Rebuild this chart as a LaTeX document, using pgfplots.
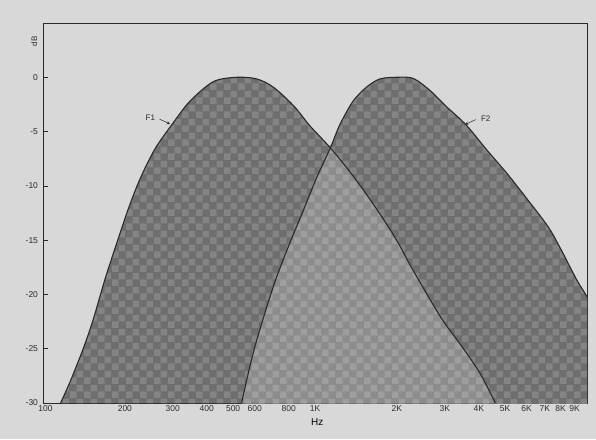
\documentclass[border=0pt]{standalone}
\usepackage{fontspec}
\setmainfont{Liberation Sans}
\usepackage{pgfplots}
\pgfplotsset{compat=1.18}
\usetikzlibrary{patterns.meta}
\definecolor{paper}{HTML}{D8D8D8}
\definecolor{band}{HTML}{6E6E6E}
\definecolor{overlap}{HTML}{8C8C8C}
\definecolor{ink}{HTML}{2A2A2A}

\tikzdeclarepattern{
  name=checks, type=uncolored,
  bounding box={(0pt,0pt) and (14pt,14pt)},
  tile size={(14pt,14pt)},
  code={\fill (0pt,0pt) rectangle (7pt,7pt); \fill (7pt,7pt) rectangle (14pt,14pt);}
}

\begin{document}
\begin{tikzpicture}
\fill[paper] (-43pt,-36pt) rectangle (553pt,403pt);
\begin{axis}[
  scale only axis, width=544pt, height=380pt,
  xmode=log, xmin=100, xmax=10000, ymin=-30, ymax=5,
  clip mode=individual,
  axis line style={ink, line width=0.8pt},
  tick align=inside, xtick pos=bottom, ytick pos=left,
  major tick length=5pt, tick style={ink, line width=0.6pt},
  xminorticks=false, yminorticks=false,
  xtick={100,200,300,400,500,600,700,800,900,1000,2000,3000,4000,5000,6000,7000,8000,9000},
  xticklabels={{\hspace{5pt}100},200,300,400,500,600,{},800,{},1K,2K,3K,4K,5K,6K,7K,8K,9K},
  ytick={-30,-25,-20,-15,-10,-5,0},
  yticklabels={-30,-25,-20,-15,-10,-5,0},
  ticklabel style={font=\fontsize{8.5}{10}\selectfont, text=ink},
  xticklabel style={yshift=1pt},
  yticklabel style={xshift=-1.5pt},
  xlabel={Hz}, xlabel style={font=\fontsize{8.5}{10}\selectfont, text=ink},
  every axis x label/.style={at={(axis description cs:0.504,-0.05)}, anchor=center},
]
% F1 band
\addplot[smooth, draw=none, preaction={fill=band}, pattern=checks, pattern color=band!85!white] coordinates {
  (116,-30) (126,-28.0) (141,-24.9) (153,-22.3) (169,-18.6) (186,-15.4)
  (206,-12.1) (227,-9.4) (258,-6.6) (301,-4.2) (347,-2.2) (423,-0.4)
  (515,0) (610,-0.15) (702,-0.9) (833,-2.6) (960,-4.5) (1139,-6.5)
  (1352,-8.8) (1548,-10.8) (1831,-13.5) (2048,-15.5) (2237,-17.3)
  (2568,-19.9) (2951,-22.4) (3491,-24.9) (4050,-27.3) (4600,-30)};
% F2 band
\addplot[smooth, draw=none, preaction={fill=band}, pattern=checks, pattern color=band!85!white] coordinates {
  (537,-30) (594,-25.3) (664,-21.2) (723,-18.4) (810,-15.2) (905,-12.3)
  (1012,-9.3) (1139,-6.5) (1232,-4.4) (1380,-2.2) (1548,-0.9) (1733,-0.15)
  (1995,0) (2295,-0.1) (2643,-1.2) (3042,-2.7) (3597,-4.4) (4284,-6.7)
  (5095,-8.9) (6060,-11.3) (7210,-13.8) (8000,-15.8) (9140,-18.6)
  (10000,-20.2) (11000,-22) (12000,-30) (600,-33)};
% overlap of the two bands
\addplot[smooth, draw=none, preaction={fill=overlap}, pattern=checks, pattern color=overlap!84!white] coordinates {
  (537,-30) (594,-25.3) (664,-21.2) (723,-18.4) (810,-15.2) (905,-12.3)
  (1012,-9.3) (1139,-6.5) (1139,-6.5)
  (1352,-8.8) (1548,-10.8) (1831,-13.5) (2048,-15.5) (2237,-17.3)
  (2568,-19.9) (2951,-22.4) (3491,-24.9) (4050,-27.3) (4600,-30)};
% outlines
\addplot[smooth, ink, line width=1.1pt] coordinates {
  (116,-30) (126,-28.0) (141,-24.9) (153,-22.3) (169,-18.6) (186,-15.4)
  (206,-12.1) (227,-9.4) (258,-6.6) (301,-4.2) (347,-2.2) (423,-0.4)
  (515,0) (610,-0.15) (702,-0.9) (833,-2.6) (960,-4.5) (1139,-6.5)
  (1352,-8.8) (1548,-10.8) (1831,-13.5) (2048,-15.5) (2237,-17.3)
  (2568,-19.9) (2951,-22.4) (3491,-24.9) (4050,-27.3) (4600,-30)};
\addplot[smooth, ink, line width=1.1pt] coordinates {
  (537,-30) (594,-25.3) (664,-21.2) (723,-18.4) (810,-15.2) (905,-12.3)
  (1012,-9.3) (1139,-6.5) (1232,-4.4) (1380,-2.2) (1548,-0.9) (1733,-0.15)
  (1995,0) (2295,-0.1) (2643,-1.2) (3042,-2.7) (3597,-4.4) (4284,-6.7)
  (5095,-8.9) (6060,-11.3) (7210,-13.8) (8000,-15.8) (9140,-18.6)
  (10000,-20.2) (11000,-22)};
% labels
\node[font=\fontsize{8}{10}\selectfont, text=ink, anchor=east] at (axis cs:266,-3.7) {F1};
\draw[ink, line width=0.5pt, -stealth] (axis cs:268,-3.85) -- (axis cs:293,-4.3);
\node[font=\fontsize{8}{10}\selectfont, text=ink, anchor=west] at (axis cs:3960,-3.8) {F2};
\draw[ink, line width=0.5pt, -stealth] (axis cs:3900,-3.9) -- (axis cs:3560,-4.35);
\node[font=\fontsize{8}{10}\selectfont, text=ink, rotate=90] at (axis description cs:-0.016,0.952) {dB};
\end{axis}
\end{tikzpicture}
\end{document}
